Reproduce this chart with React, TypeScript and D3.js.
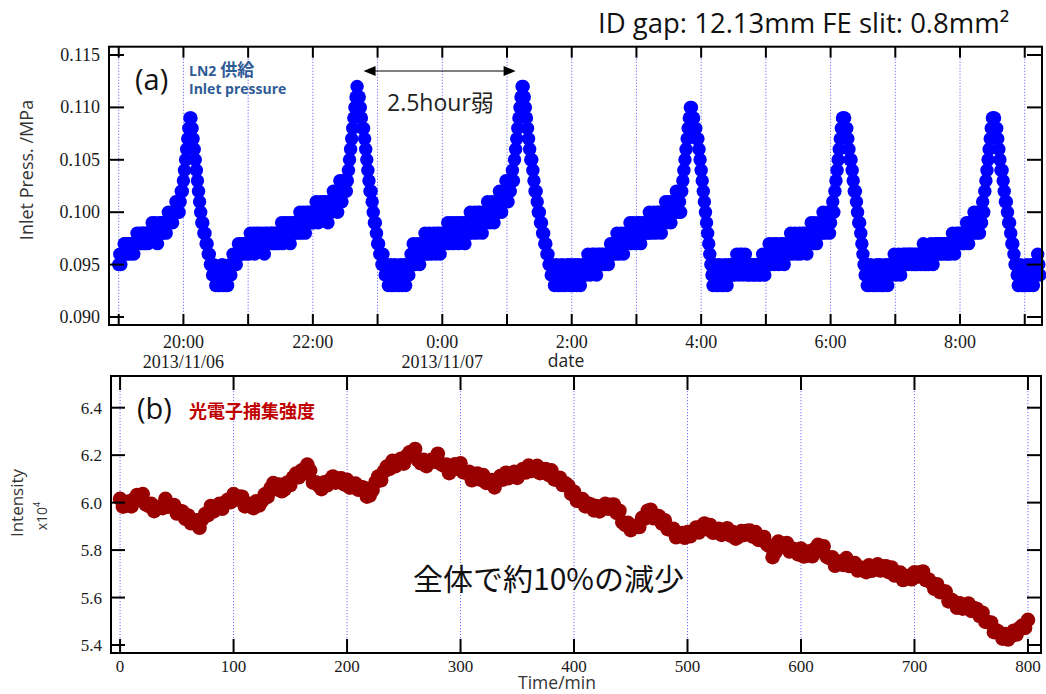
import React from 'react';
import * as d3 from 'd3';

const W = 1046;
const H = 694;

// (a) LN2 inlet pressure, one sample per minute, in 0.001 MPa, one array per hour from 19:00
const p19 = [
  95, 96, 95, 96, 96, 97, 96, 97, 96, 97,
  97, 96, 97, 97, 96, 97, 97, 98, 97, 97,
  98, 97, 98, 98, 97, 98, 98, 97, 98, 98,
  98, 99, 98, 98, 99, 98, 97, 98, 99, 98,
  99, 98, 99, 99, 98, 99, 100, 99, 99, 100,
  99, 100, 100, 101, 100, 101, 100, 101, 102, 102,
];
const p20 = [
  103, 104, 105, 106, 107, 108, 109, 109, 108, 107,
  106, 105, 104, 103, 102, 101, 100, 99, 99, 98,
  98, 97, 97, 96, 96, 95, 95, 94, 95, 94,
  93, 94, 93, 94, 93, 94, 95, 93, 94, 93,
  94, 93, 94, 95, 94, 95, 96, 95, 96, 95,
  96, 97, 96, 96, 97, 96, 97, 97, 96, 97,
];
const p21 = [
  97, 96, 98, 97, 97, 98, 96, 97, 98, 97,
  98, 97, 97, 98, 97, 96, 98, 97, 98, 97,
  97, 98, 98, 97, 98, 97, 98, 98, 97, 98,
  98, 99, 97, 98, 99, 98, 98, 99, 98, 97,
  99, 98, 99, 98, 99, 99, 98, 99, 100, 98,
  99, 100, 99, 98, 100, 99, 100, 99, 100, 99,
];
const p22 = [
  100, 99, 100, 101, 100, 99, 100, 101, 100, 100,
  101, 100, 101, 100, 99, 101, 101, 100, 101, 102,
  101, 102, 101, 100, 102, 103, 102, 101, 103, 102,
  103, 102, 103, 104, 105, 106, 107, 108, 109, 110,
  111, 112, 111, 111, 110, 109, 108, 108, 107, 106,
  105, 104, 103, 102, 102, 101, 100, 99, 99, 98,
];
const p23 = [
  97, 97, 96, 96, 95, 96, 95, 94, 95, 94,
  93, 94, 95, 93, 94, 93, 95, 94, 93, 94,
  93, 95, 94, 93, 94, 95, 93, 94, 95, 94,
  95, 96, 95, 97, 96, 95, 96, 97, 96, 95,
  96, 97, 96, 97, 98, 96, 97, 96, 98, 97,
  96, 97, 98, 97, 96, 98, 97, 98, 96, 97,
];
const p00 = [
  98, 97, 98, 97, 98, 99, 97, 98, 99, 98,
  97, 99, 98, 98, 99, 97, 98, 99, 98, 99,
  98, 97, 99, 98, 99, 98, 100, 99, 98, 99,
  100, 99, 98, 100, 99, 100, 99, 98, 100, 99,
  100, 99, 101, 100, 99, 100, 101, 100, 99, 101,
  100, 101, 100, 102, 101, 100, 101, 102, 101, 103,
];
const p01 = [
  102, 101, 103, 102, 103, 104, 103, 105, 106, 107,
  108, 109, 110, 111, 112, 112, 111, 110, 109, 108,
  107, 106, 105, 105, 104, 103, 102, 102, 101, 100,
  100, 99, 99, 98, 98, 97, 97, 96, 96, 95,
  95, 94, 95, 94, 93, 94, 95, 93, 94, 93,
  94, 95, 93, 94, 93, 94, 95, 94, 93, 95,
];
const p02 = [
  94, 93, 94, 95, 94, 93, 95, 94, 93, 94,
  95, 94, 95, 94, 95, 96, 95, 94, 95, 96,
  95, 96, 95, 94, 96, 95, 96, 95, 96, 95,
  96, 95, 96, 96, 95, 96, 97, 96, 97, 96,
  97, 96, 98, 97, 96, 97, 98, 97, 96, 98,
  97, 98, 97, 98, 99, 97, 98, 99, 98, 97,
];
const p03 = [
  98, 99, 98, 99, 97, 98, 99, 98, 99, 98,
  99, 98, 100, 99, 98, 99, 100, 99, 98, 100,
  99, 100, 99, 98, 100, 99, 100, 101, 99, 100,
  101, 100, 99, 101, 100, 101, 100, 102, 101, 100,
  101, 100, 102, 103, 104, 105, 106, 107, 108, 109,
  110, 110, 109, 109, 108, 108, 107, 107, 106, 105,
];
const p04 = [
  104, 103, 102, 101, 100, 99, 98, 97, 96, 95,
  94, 93, 94, 95, 93, 94, 93, 95, 94, 93,
  94, 93, 95, 94, 93, 94, 95, 94, 95, 94,
  95, 94, 95, 96, 95, 94, 96, 95, 96, 94,
  95, 96, 95, 94, 95, 94, 95, 95, 94, 95,
  94, 95, 95, 94, 95, 94, 95, 96, 95, 94,
];
const p05 = [
  95, 96, 95, 97, 96, 95, 96, 97, 95, 96,
  97, 96, 95, 96, 97, 96, 97, 95, 96, 97,
  96, 97, 96, 98, 97, 96, 97, 98, 97, 96,
  97, 98, 96, 97, 98, 97, 98, 97, 96, 98,
  97, 98, 99, 98, 97, 99, 98, 97, 98, 99,
  98, 99, 98, 100, 99, 98, 99, 100, 99, 98,
];
const p06 = [
  99, 100, 101, 100, 102, 103, 104, 105, 106, 107,
  108, 109, 109, 109, 108, 108, 107, 106, 105, 105,
  104, 103, 102, 102, 101, 100, 99, 99, 98, 97,
  96, 95, 94, 95, 93, 94, 93, 95, 94, 93,
  94, 93, 94, 95, 93, 94, 95, 93, 94, 93,
  94, 95, 94, 93, 95, 94, 95, 94, 95, 96,
];
const p07 = [
  95, 94, 95, 96, 95, 94, 95, 96, 95, 96,
  95, 96, 95, 96, 96, 95, 96, 95, 96, 95,
  96, 95, 96, 96, 95, 96, 97, 95, 96, 95,
  96, 95, 96, 97, 96, 95, 96, 97, 96, 97,
  96, 97, 96, 97, 96, 97, 97, 96, 97, 96,
  97, 96, 97, 98, 97, 96, 97, 98, 97, 98,
];
const p08 = [
  97, 98, 97, 98, 97, 98, 99, 98, 97, 99,
  98, 99, 98, 100, 99, 98, 100, 99, 98, 100,
  99, 101, 100, 102, 103, 104, 105, 106, 107, 108,
  109, 109, 109, 108, 108, 107, 106, 105, 104, 104,
  103, 102, 101, 101, 100, 99, 99, 98, 97, 97,
  96, 95, 95, 94, 93, 94, 95, 93, 94, 93,
];
const p09 = [
  94, 93, 95, 94, 93, 94, 95, 94, 93, 95,
  94, 95, 96, 95, 94,
];
const pressureHours = [p19, p20, p21, p22, p23, p00, p01, p02, p03, p04, p05, p06, p07, p08, p09];
const pressureStart = new Date(2013, 10, 6, 19, 0);
const pressureTicks = [0.09, 0.095, 0.1, 0.105, 0.11, 0.115];
const dateLabels = [
  { t: new Date(2013, 10, 6, 20, 0), label: '2013/11/06' },
  { t: new Date(2013, 10, 7, 0, 0), label: '2013/11/07' },
];

// (b) photoelectron intensity (x10^4), every 2.5 min from 0 to 800 min
const intensity = [
  6.016, 5.983, 5.986, 6.005, 5.984, 6.016, 6.032, 6.012, 6.036, 5.993,
  5.986, 5.995, 5.964, 5.981, 5.982, 5.977, 6.016, 5.983, 5.986, 5.990,
  5.954, 5.966, 5.962, 5.932, 5.946, 5.913, 5.916, 5.925, 5.894, 5.931,
  5.952, 5.947, 5.986, 5.963, 5.976, 5.995, 5.974, 6.001, 6.012, 6.002,
  6.036, 6.013, 6.026, 6.025, 5.984, 5.996, 5.992, 5.977, 6.006, 5.988,
  6.006, 6.035, 6.024, 6.061, 6.082, 6.057, 6.076, 6.048, 6.056, 6.085,
  6.074, 6.106, 6.122, 6.107, 6.136, 6.123, 6.160, 6.135, 6.084, 6.086,
  6.072, 6.057, 6.086, 6.073, 6.096, 6.110, 6.084, 6.101, 6.102, 6.077,
  6.096, 6.063, 6.066, 6.080, 6.054, 6.066, 6.062, 6.025, 6.030, 6.053,
  6.086, 6.110, 6.094, 6.131, 6.152, 6.142, 6.176, 6.153, 6.166, 6.185,
  6.164, 6.196, 6.212, 6.197, 6.226, 6.178, 6.166, 6.180, 6.154, 6.176,
  6.182, 6.172, 6.206, 6.163, 6.156, 6.160, 6.124, 6.151, 6.162, 6.142,
  6.166, 6.128, 6.126, 6.130, 6.094, 6.116, 6.122, 6.097, 6.116, 6.083,
  6.086, 6.095, 6.064, 6.096, 6.112, 6.097, 6.126, 6.103, 6.116, 6.130,
  6.104, 6.131, 6.142, 6.127, 6.156, 6.133, 6.146, 6.155, 6.124, 6.141,
  6.142, 6.117, 6.136, 6.098, 6.096, 6.105, 6.074, 6.081, 6.072, 6.037,
  6.046, 6.008, 6.006, 6.015, 5.984, 5.996, 5.992, 5.967, 5.986, 5.963,
  5.976, 5.995, 5.974, 5.991, 5.992, 5.957, 5.966, 5.918, 5.906, 5.915,
  5.884, 5.901, 5.902, 5.897, 5.936, 5.933, 5.966, 5.970, 5.934, 5.946,
  5.942, 5.912, 5.926, 5.888, 5.886, 5.890, 5.854, 5.871, 5.872, 5.852,
  5.876, 5.858, 5.876, 5.895, 5.874, 5.901, 5.912, 5.887, 5.906, 5.873,
  5.876, 5.890, 5.864, 5.886, 5.892, 5.862, 5.876, 5.848, 5.856, 5.880,
  5.864, 5.881, 5.882, 5.857, 5.876, 5.843, 5.846, 5.855, 5.824, 5.816,
  5.770, 5.792, 5.836, 5.813, 5.826, 5.830, 5.794, 5.806, 5.802, 5.782,
  5.806, 5.773, 5.776, 5.795, 5.774, 5.806, 5.822, 5.797, 5.816, 5.773,
  5.766, 5.770, 5.734, 5.751, 5.752, 5.737, 5.766, 5.733, 5.736, 5.745,
  5.714, 5.726, 5.722, 5.707, 5.736, 5.713, 5.726, 5.740, 5.714, 5.731,
  5.732, 5.707, 5.726, 5.693, 5.696, 5.705, 5.674, 5.691, 5.692, 5.677,
  5.706, 5.688, 5.706, 5.710, 5.674, 5.676, 5.662, 5.637, 5.656, 5.623,
  5.626, 5.625, 5.584, 5.591, 5.582, 5.557, 5.576, 5.553, 5.566, 5.575,
  5.544, 5.556, 5.552, 5.522, 5.536, 5.498, 5.496, 5.495, 5.454, 5.461,
  5.452, 5.427, 5.446, 5.423, 5.436, 5.460, 5.444, 5.471, 5.482, 5.472,
  5.506,
];
const intensityStep = 2.5;
const minuteTicks = [0, 100, 200, 300, 400, 500, 600, 700, 800];
const intensityTicks = [5.4, 5.6, 5.8, 6.0, 6.2, 6.4];

const SANS = "'Open Sans', 'Noto Sans CJK JP', sans-serif";
const CJK = "'Noto Sans CJK JP', sans-serif";
const SERIF = "'Liberation Serif', 'DejaVu Serif', serif";
const GRID = '#7070ff';

export default function App() {
  // top panel
  const xT = d3.scaleTime()
    .domain([new Date(2013, 10, 6, 18, 51), new Date(2013, 10, 7, 9, 16)])
    .range([109, 1042]);
  const yT = d3.scaleLinear().domain([0.089237, 0.115792]).range([325, 46.7]);
  const hours = xT.ticks(d3.timeHour.every(1));
  const fmt = d3.timeFormat('%-H:%M');
  const pressure = pressureHours.flatMap((row, h) =>
    row.map((v, i) => ({ t: d3.timeMinute.offset(pressureStart, h * 60 + i), v: v / 1000 }))
  );

  // bottom panel
  const xB = d3.scaleLinear().domain([-8, 811.5]).range([111, 1041]);
  const yB = d3.scaleLinear().domain([5.3663, 6.5336]).range([653, 376]);

  const [t0, t1] = xT.range();
  const [b0, b1] = [yT(yT.domain()[0]), yT(yT.domain()[1])];
  const [l0, l1] = xB.range();
  const [c0, c1] = [yB(yB.domain()[0]), yB(yB.domain()[1])];

  const arrowL = xT(new Date(2013, 10, 6, 22, 47));
  const arrowR = xT(new Date(2013, 10, 7, 1, 8));
  const arrowY = 71;

  return (
    <svg width={W} height={H} style={{ position: 'absolute', left: 0, top: 0, background: '#fff' }}>
      {/* ---------- (a) ---------- */}
      <g>
        {hours.map((d, i) => (
          <line key={i} x1={xT(d)} x2={xT(d)} y1={b1} y2={b0}
            stroke={GRID} strokeWidth={1} strokeDasharray="1.2 1.8" />
        ))}
        <g fill="#0000ff">
          {pressure.map((d, i) => (
            <circle key={i} cx={xT(d.t)} cy={yT(d.v)} r={6.7} />
          ))}
        </g>
        <g stroke="#000" strokeWidth={2}>
          {hours.map((d, i) => (
            <g key={i}>
              <line x1={xT(d)} x2={xT(d)} y1={b0} y2={b0 - 11} />
              <line x1={xT(d)} x2={xT(d)} y1={b1} y2={b1 + 11} />
            </g>
          ))}
          {pressureTicks.map((v, i) => (
            <g key={i}>
              <line x1={t0} x2={t0 + 15} y1={yT(v)} y2={yT(v)} />
              <line x1={t1} x2={t1 - 15} y1={yT(v)} y2={yT(v)} />
            </g>
          ))}
          <rect x={t0} y={b1} width={t1 - t0} height={b0 - b1} fill="none" />
        </g>
        <g fontFamily={SERIF} fontSize={18} fill="#1a1a1a">
          {pressureTicks.map((v, i) => (
            <text key={i} x={100} y={yT(v) + 6} textAnchor="end">{v.toFixed(3)}</text>
          ))}
          {hours.filter(d => d.getHours() % 2 === 0).map((d, i) => (
            <text key={i} x={xT(d)} y={348} textAnchor="middle">{fmt(d)}</text>
          ))}
          {dateLabels.map((d, i) => (
            <text key={i} x={xT(d.t)} y={368} textAnchor="middle">{d.label}</text>
          ))}
        </g>
        <text x={566} y={367} fontFamily={SANS} fontSize={17.5} fill="#222" textAnchor="middle">date</text>
        <text transform="translate(33,170) rotate(-90)" fontFamily={SANS} fontSize={18} fill="#333"
          textAnchor="middle">Inlet Press. /MPa</text>
        <text x={135} y={90} fontFamily={SANS} fontSize={29} fill="#111">(a)</text>
        <g fontFamily={SANS} fontWeight="bold" fill="#2f5b94">
          <text x={189} y={76} fontSize={14}>LN2<tspan fontFamily={CJK} fontSize={17}> 供給</tspan></text>
          <text x={189} y={94} fontSize={14}>Inlet pressure</text>
        </g>
        <g stroke="#000" strokeWidth={1.2} fill="#000">
          <line x1={arrowL + 10} x2={arrowR - 10} y1={arrowY} y2={arrowY} />
          <path d={`M${arrowL},${arrowY}L${arrowL + 12},${arrowY - 5}L${arrowL + 12},${arrowY + 5}Z`} stroke="none" />
          <path d={`M${arrowR},${arrowY}L${arrowR - 12},${arrowY - 5}L${arrowR - 12},${arrowY + 5}Z`} stroke="none" />
        </g>
        <text x={387} y={111} fontFamily={SANS} fontSize={23} fill="#222">2.5hour弱</text>
        <text x={598} y={33} fontFamily={SANS} fontSize={27.5} fill="#111">ID gap: 12.13mm FE slit: 0.8mm²</text>
      </g>

      {/* ---------- (b) ---------- */}
      <g>
        {minuteTicks.map((m, i) => (
          <line key={i} x1={xB(m)} x2={xB(m)} y1={c1} y2={c0}
            stroke={GRID} strokeWidth={1} strokeDasharray="1.2 1.8" />
        ))}
        <g fill="#990000">
          {intensity.map((v, i) => (
            <circle key={i} cx={xB(i * intensityStep)} cy={yB(v)} r={7.3} />
          ))}
        </g>
        <g stroke="#000" strokeWidth={2}>
          {minuteTicks.map((m, i) => (
            <g key={i}>
              <line x1={xB(m)} x2={xB(m)} y1={c0} y2={c0 - 14} />
              <line x1={xB(m)} x2={xB(m)} y1={c1} y2={c1 + 14} />
            </g>
          ))}
          {intensityTicks.map((v, i) => (
            <g key={i}>
              <line x1={l0} x2={l0 + 14} y1={yB(v)} y2={yB(v)} />
              <line x1={l1} x2={l1 - 14} y1={yB(v)} y2={yB(v)} />
            </g>
          ))}
          <rect x={l0} y={c1} width={l1 - l0} height={c0 - c1} fill="none" />
        </g>
        <g fontFamily={SERIF} fontSize={17} fill="#1a1a1a">
          {intensityTicks.map((v, i) => (
            <text key={i} x={102} y={yB(v) + 6} textAnchor="end">{v.toFixed(1)}</text>
          ))}
          {minuteTicks.map((m, i) => (
            <text key={i} x={xB(m)} y={672} textAnchor="middle">{m}</text>
          ))}
        </g>
        <text x={557} y={689} fontFamily={SANS} fontSize={17.5} fill="#333" textAnchor="middle">Time/min</text>
        <text transform="translate(23,503) rotate(-90)" fontFamily={SANS} fontSize={17} fill="#333"
          textAnchor="middle">Intensity</text>
        <text transform="translate(47,516) rotate(-90)" fontFamily={SANS} fontSize={14} fill="#333"
          textAnchor="middle">x10<tspan fontSize={9} dy={-7}>4</tspan></text>
        <text x={137} y={419} fontFamily={SANS} fontSize={29} fill="#111">(b)</text>
        <text x={189} y={418} fontFamily={CJK} fontSize={18} fontWeight="bold" fill="#c00000">光電子捕集強度</text>
        <text x={413} y={590} fontFamily={CJK} fontSize={30} fill="#111">全体で約10%の減少</text>
      </g>
    </svg>
  );
}
